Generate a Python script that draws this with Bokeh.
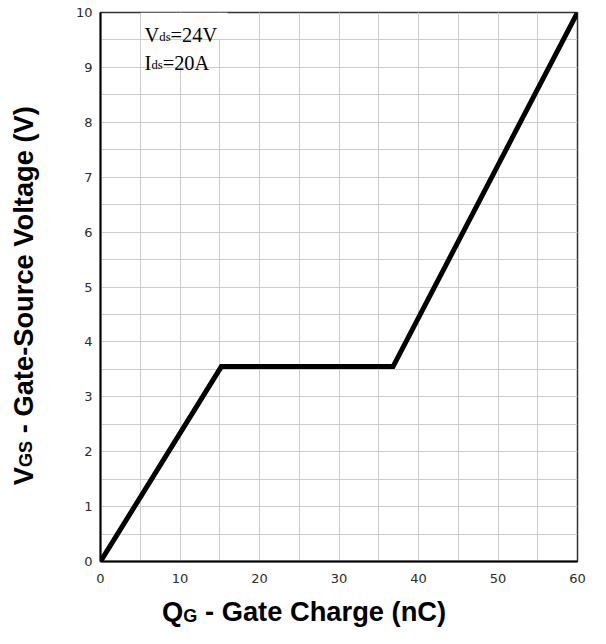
import math
from bokeh.plotting import figure
from bokeh.layouts import row, column
from bokeh.models import Label, SingleIntervalTicker, Range1d, BoxAnnotation
from bokeh.embed import file_html
from bokeh.resources import INLINE

# ---- data ----
qg_nc = [0, 15.2, 36.8, 60]
vgs_v = [0, 3.55, 3.55, 10]
x_range_vals = [0, 60]
y_range_vals = [0, 10]
x_tick_step = 10
y_tick_step = 1
note1 = ("V", "ds", "=24V")
note2 = ("I", "ds", "=20A")
xlab = ("Q", "G", "- Gate Charge (nC)")
ylab = ("V", "GS", "- Gate-Source Voltage (V)")

# Arial-bold / Times compatible advance widths (em) for composing sub-scripted labels
BW = {' ': .278, '-': .333, 'G': .778, 'a': .556, 't': .333, 'e': .556, 'S': .667,
      'o': .611, 'u': .611, 'r': .389, 'c': .556, 'V': .667, 'l': .278, 'g': .611,
      '(': .333, ')': .333, 'Q': .778, 'C': .722, 'h': .611, 'n': .611}
SW = {'V': .722, 'I': .333, 'd': .5, 's': .389, '=': .564, '2': .5, '4': .5, '0': .5, 'A': .722}


def tw(s, size, table):
    return sum(table.get(c, .6) for c in s) * size


# layout (reference pixel geometry scaled to the available 590x628)
TW, TH = 590, 628
sx, sy = TW / 606, TH / 644
sf = min(sx, sy)


def X(v):
    return v * sx


def Y(v):
    return v * sy


WY = round(X(52))            # width of the y-title strip
MAIN_H = round(Y(603))
MAIN_W = TW - WY
XT_H = TH - MAIN_H           # height of the x-title strip
FL = round(X(103))           # frame left (overall coords)
FR = round(X(593))
FT = round(Y(12))
FB = round(Y(575))

BIG = 28 * sf
SMALL = 18.6 * sf
NBIG = 21 * sf
NSMALL = 13 * sf

p = figure(width=MAIN_W, height=MAIN_H, output_backend="svg", toolbar_location=None,
           x_range=Range1d(*x_range_vals), y_range=Range1d(*y_range_vals),
           min_border_left=FL - WY, min_border_right=TW - FR, min_border_top=FT,
           min_border_bottom=MAIN_H - FB)
p.background_fill_color = "white"
p.border_fill_color = "white"
p.outline_line_color = "#333333"
p.outline_line_width = 1.5

p.xaxis.ticker = SingleIntervalTicker(interval=x_tick_step, num_minor_ticks=2)
p.yaxis.ticker = SingleIntervalTicker(interval=y_tick_step, num_minor_ticks=2)
for ax in (p.xaxis, p.yaxis):
    ax.axis_line_color = "black"
    ax.axis_line_width = 2
    ax.major_tick_line_color = None
    ax.minor_tick_line_color = None
    ax.major_tick_out = 0
    ax.major_tick_in = 0
    ax.major_label_text_font = "DejaVu Sans"
    ax.major_label_text_font_size = "13px"
    ax.major_label_text_color = "#2b2b2b"
p.xaxis.major_label_standoff = 8
p.yaxis.major_label_standoff = 4

for g in (p.xgrid, p.ygrid):
    g.grid_line_color = "#cccccc"
    g.grid_line_width = 1
    g.minor_grid_line_color = "#cccccc"
    g.minor_grid_line_width = 1

p.line(qg_nc, vgs_v, line_color="black", line_width=5, line_join="miter")

# white boxes behind the condition notes
p.add_layout(BoxAnnotation(left=5.1, right=16.0, bottom=9.52, top=10, fill_color="white",
                           fill_alpha=1, line_color=None, level="annotation"))
p.add_layout(BoxAnnotation(left=5.1, right=14.5, bottom=9.02, top=9.48, fill_color="white",
                           fill_alpha=1, line_color=None, level="annotation"))


def add_lbl(fig, x, y, text, font, size, bold=False, angle=0.0):
    fig.add_layout(Label(x=x, y=y, x_units="screen", y_units="screen", text=text, angle=angle,
                         text_font=font, text_font_style="bold" if bold else "normal",
                         text_font_size=f"{size:.1f}px", text_color="black",
                         text_baseline="alphabetic", text_align="left"))


def note(parts, x_ref, base_ref):
    main, sub, rest = parts
    x = X(x_ref)
    yb = FB - Y(base_ref)
    add_lbl(p, x - FL, yb, main, "Liberation Serif", NBIG)
    x += tw(main, NBIG, SW)
    add_lbl(p, x - FL, yb - 2, sub, "Liberation Serif", NSMALL)
    x += tw(sub, NSMALL, SW)
    add_lbl(p, x - FL, yb, rest, "Liberation Serif", NBIG)


note(note1, 148, 35)
note(note2, 148, 64)

# ---- y title strip (rotated text, reading upward); frame aligned with the main frame ----
yfig = figure(width=WY, height=MAIN_H, output_backend="svg", toolbar_location=None,
              x_range=Range1d(0, 1), y_range=Range1d(0, 1), x_axis_type=None, y_axis_type=None,
              min_border=0, min_border_left=0, min_border_right=0, min_border_top=FT,
              min_border_bottom=MAIN_H - FB, outline_line_color=None)
yfig.background_fill_color = "white"
yfig.border_fill_color = "white"
ang = math.pi / 2
YDX = -11                    # measured horizontal offset of the strip's frame
ybx = X(35) + YDX
yy = FB - Y(497)
add_lbl(yfig, ybx, yy, ylab[0], "Liberation Sans", BIG, True, ang)
yy += tw(ylab[0], BIG, BW)
add_lbl(yfig, X(38) + YDX, yy, ylab[1], "Liberation Sans", SMALL, True, ang)
yy += tw(ylab[1], SMALL, BW) + tw(" ", BIG, BW)
add_lbl(yfig, ybx, yy, ylab[2], "Liberation Sans", BIG, True, ang)

# ---- x title strip ----
xfig = figure(width=TW, height=XT_H, output_backend="svg", toolbar_location=None,
              x_range=Range1d(0, 1), y_range=Range1d(0, 1), x_axis_type=None, y_axis_type=None,
              min_border=0, min_border_left=0, min_border_right=0, min_border_top=0,
              min_border_bottom=0, outline_line_color=None)
xfig.background_fill_color = "white"
xfig.border_fill_color = "white"
XDY = 9                      # measured vertical offset of the strip
xx = X(166)
xb = TH - Y(636) + XDY
add_lbl(xfig, xx, xb, xlab[0], "Liberation Sans", BIG, True)
xx += tw(xlab[0], BIG, BW)
add_lbl(xfig, xx, TH - Y(640) + XDY, xlab[1], "Liberation Sans", SMALL, True)
xx += tw(xlab[1], SMALL, BW) + tw(" ", BIG, BW)
add_lbl(xfig, xx, xb, xlab[2], "Liberation Sans", BIG, True)

layout = column(row(yfig, p), xfig)

open("out.html", "w").write(file_html(layout, INLINE))
